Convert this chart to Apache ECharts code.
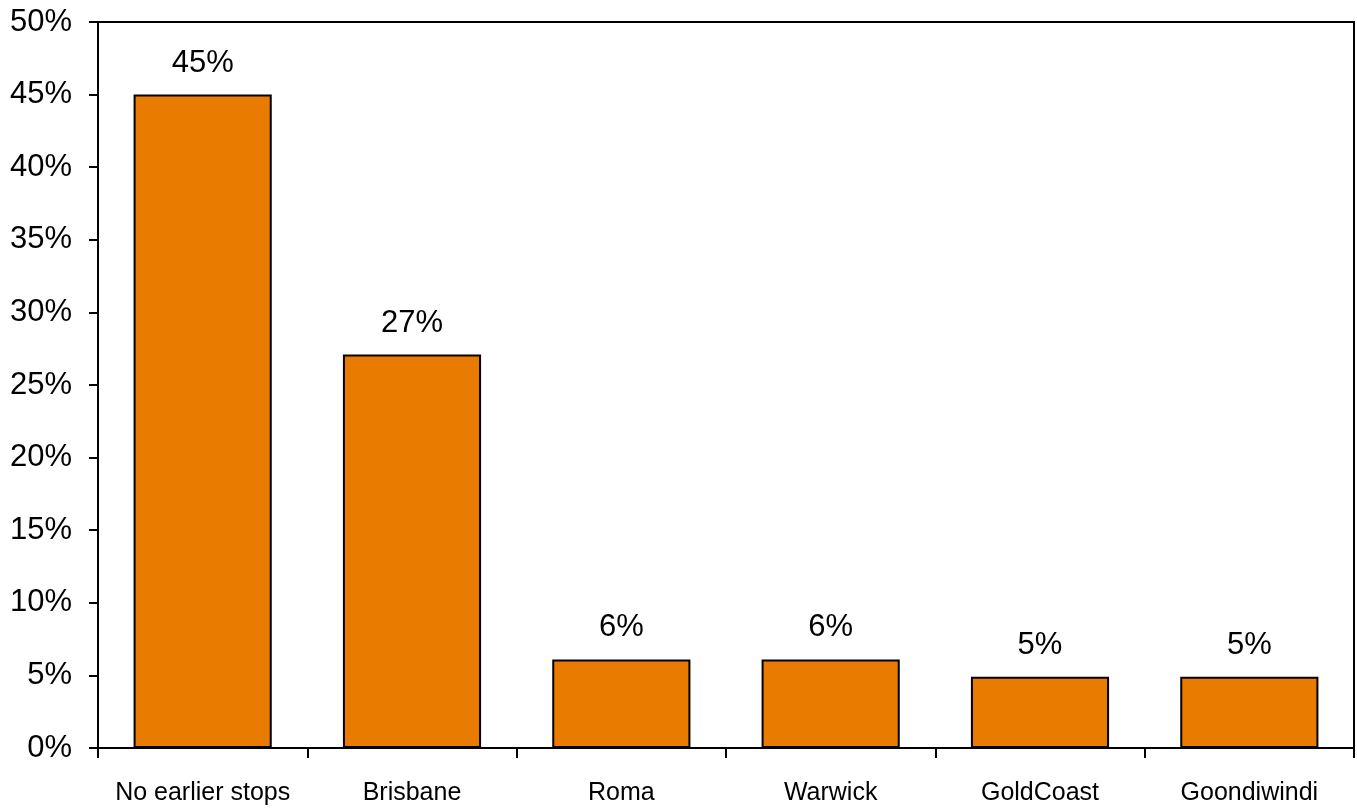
<!DOCTYPE html>
<html>
<head>
<meta charset="utf-8">
<script src="https://cdn.jsdelivr.net/npm/echarts@6/dist/echarts.min.js"></script>
<style>html,body{margin:0;padding:0;background:#fff}#c{width:1357px;height:809px}</style>
</head>
<body>
<div id="c"></div>
<script>
const categories = ['No earlier stops', 'Brisbane', 'Roma', 'Warwick', 'GoldCoast', 'Goondiwindi'];
const values = [45, 27.1, 6.1, 6.1, 4.9, 4.9];
const FONT = '"Liberation Sans", Arial, sans-serif';

const chart = echarts.init(document.getElementById('c'));
chart.setOption({
  animation: false,
  grid: { left: 98, right: 3, top: 22, bottom: 61, show: true, borderColor: '#000', borderWidth: 2, backgroundColor: 'transparent' },
  xAxis: {
    type: 'category',
    data: categories,
    axisLine: { lineStyle: { color: '#000', width: 2 } },
    axisTick: { show: true, length: 10, lineStyle: { color: '#000', width: 2 } },
    axisLabel: { color: '#000', fontSize: 25, fontFamily: FONT, margin: 33, interval: 0 }
  },
  yAxis: {
    type: 'value',
    min: 0, max: 50, interval: 5,
    splitLine: { show: false },
    axisLine: { show: true, lineStyle: { color: '#000', width: 2 } },
    axisTick: { show: true, length: 9, lineStyle: { color: '#000', width: 2 } },
    axisLabel: { color: '#000', fontSize: 31, fontFamily: FONT, margin: 26, formatter: '{value}%' }
  },
  series: [{
    type: 'bar',
    data: values,
    barWidth: '66%',
    itemStyle: { color: '#E87B00', borderColor: '#000', borderWidth: 2 },
    label: {
      show: true, position: 'top', distance: 16,
      color: '#000', fontSize: 31, fontFamily: FONT,
      formatter: p => Math.round(p.value) + '%'
    }
  }]
});
</script>
</body>
</html>
